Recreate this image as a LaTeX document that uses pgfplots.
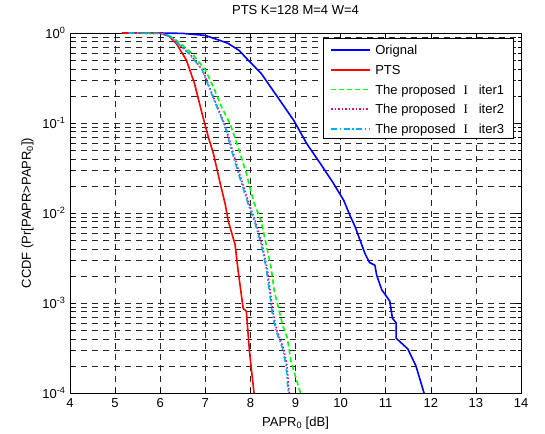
\documentclass[border=0pt]{standalone}
\usepackage{fontspec}
\setmainfont{Liberation Sans}
\newfontfamily\serifI{Liberation Serif}
\usepackage{pgfplots}
\pgfplotsset{compat=1.18}
\usetikzlibrary{calc}

\tikzset{
  origstyle/.style={color=blue, line width=1.6pt},
  ptsstyle/.style={color=red, line width=1.6pt},
  itaStyle/.style={color=green, line width=1.6pt, dash pattern=on 5pt off 3pt},
  itbStyle/.style={color=magenta, line width=1.6pt, dash pattern=on 1.5pt off 2pt},
  itcStyle/.style={color=cyan, line width=1.6pt, dash pattern=on 6pt off 2.5pt on 1.5pt off 2.5pt},
}
\newcommand{\propI}{The proposed\hspace{8pt}{\serifI I}\hspace{11pt}}
% one filled legend segment: colour, row centre (from box top), start, end (from line start)
\newcommand{\seg}[4]{\fill[#1] ([xshift={8pt+#3pt},yshift={#2pt-0.8pt}]lg.north west)
  rectangle ([xshift={8pt+#4pt},yshift={#2pt+0.8pt}]lg.north west);}

\begin{document}
\fontsize{13}{15}\selectfont
\begin{tikzpicture}
\begin{semilogyaxis}[
  scale only axis,
  width=451pt, height=360pt,
  xmin=4, xmax=14, ymin=1e-4, ymax=1,
  clip=false,
  xtick={4,5,...,14},
  ytick={1e-4,1e-3,1e-2,1e-1,1},
  yticklabels={10\textsuperscript{-4},10\textsuperscript{-3},10\textsuperscript{-2},10\textsuperscript{-1},10\textsuperscript{0}},
  minor ytick={2e-4,3e-4,4e-4,5e-4,6e-4,7e-4,8e-4,9e-4,
               2e-3,3e-3,4e-3,5e-3,6e-3,7e-3,8e-3,9e-3,
               2e-2,3e-2,4e-2,5e-2,6e-2,7e-2,8e-2,9e-2,
               2e-1,3e-1,4e-1,5e-1,6e-1,7e-1,8e-1,9e-1},
  /pgf/number format/assume math mode=true,
  tick pos=both,
  tick align=inside,
  major tick length=5pt, minor tick length=3pt,
  tick style={black, line width=0.6pt},
  axis line style={line width=1pt},
  xmajorgrids, ymajorgrids, yminorgrids,
  major grid style={black!85, line width=0.6pt, dash pattern=on 6pt off 5pt},
  minor grid style={black!85, line width=0.6pt, dash pattern=on 6pt off 5pt},
  title={PTS K=128 M=4 W=4},
  title style={at={(0.5,1)}, anchor=south, yshift=8pt},
  xlabel={PAPR\textsubscript{0} [dB]},
  ylabel={CCDF (Pr[PAPR>PAPR\textsubscript{0}])},
  xticklabel style={yshift=-1pt},
]
\addplot[origstyle] coordinates {
(5.5,1.0) (6.0,1.0) (6.5,0.99) (7.0,0.94) (7.5,0.77) (7.75,0.64) (7.95,0.50)
(8.24,0.355) (8.6,0.195) (8.96,0.107) (9.25,0.0589) (9.55,0.0355) (9.84,0.0214)
(10.07,0.0138) (10.21,0.00933) (10.32,0.00708) (10.43,0.00501) (10.54,0.00355)
(10.64,0.00282) (10.76,0.00263) (10.8,0.00204) (10.91,0.00141) (11.09,0.00105)
(11.15,0.000676) (11.23,0.000603) (11.23,0.000407) (11.49,0.000309)
(11.67,0.0002) (11.85,0.0001)};
\addplot[ptsstyle] coordinates {
(5.15,1.0) (6.0,1.0) (6.2,0.92) (6.36,0.76) (6.58,0.50) (6.76,0.275) (6.93,0.126)
(7.07,0.069) (7.18,0.0457) (7.33,0.0214) (7.44,0.0126) (7.51,0.0081)
(7.66,0.00447) (7.73,0.00224) (7.84,0.00087) (7.91,0.00081) (7.98,0.000288)
(8.08,0.0001)};
\addplot[itaStyle] coordinates {
(5.3,1.0) (6.0,0.99) (6.2,0.93) (6.42,0.79) (6.71,0.59) (7.0,0.39) (7.18,0.25)
(7.36,0.151) (7.55,0.0977) (7.73,0.0537) (7.91,0.0275) (8.07,0.0135)
(8.24,0.0081) (8.35,0.00447) (8.46,0.00245) (8.53,0.00135) (8.64,0.00081)
(8.71,0.000575) (8.82,0.000407) (8.9,0.000224) (9.11,0.0001)};
\addplot[itbStyle] coordinates {
(5.3,1.0) (6.0,0.99) (6.2,0.93) (6.37,0.79) (6.65,0.59) (6.94,0.39) (7.12,0.23)
(7.3,0.138) (7.45,0.0912) (7.6,0.0501) (7.78,0.0251) (7.97,0.0126)
(8.11,0.0081) (8.26,0.00447) (8.37,0.00245) (8.44,0.00135) (8.51,0.00074)
(8.59,0.00049) (8.73,0.000316) (8.81,0.000204) (8.86,0.0001)};
\addplot[itcStyle] coordinates {
(5.3,1.0) (6.0,0.99) (6.2,0.93) (6.36,0.79) (6.64,0.59) (6.93,0.39) (7.11,0.23)
(7.29,0.138) (7.44,0.0912) (7.58,0.0501) (7.76,0.0251) (7.95,0.0126)
(8.09,0.0081) (8.24,0.00447) (8.35,0.00245) (8.42,0.00135) (8.49,0.00074)
(8.57,0.00049) (8.71,0.000316) (8.79,0.000204) (8.84,0.0001)};

% legend box
\node[draw=black, line width=0.9pt, fill=white, anchor=north east,
      minimum width=190pt, minimum height=100pt, inner sep=0pt] (lg)
      at ([xshift=-7pt,yshift=-5pt]rel axis cs:1,1) {};
\seg{blue}{-12}{0}{39}
\seg{red}{-31.75}{0}{39}
\seg{green}{-51.5}{0}{5}\seg{green}{-51.5}{8}{13}\seg{green}{-51.5}{16}{21}
\seg{green}{-51.5}{24}{29}\seg{green}{-51.5}{32}{37}
\seg{magenta}{-71.25}{0}{1.5}\seg{magenta}{-71.25}{3.5}{5}\seg{magenta}{-71.25}{7}{8.5}
\seg{magenta}{-71.25}{10.5}{12}\seg{magenta}{-71.25}{14}{15.5}\seg{magenta}{-71.25}{17.5}{19}
\seg{magenta}{-71.25}{21}{22.5}\seg{magenta}{-71.25}{24.5}{26}\seg{magenta}{-71.25}{28}{29.5}
\seg{magenta}{-71.25}{31.5}{33}\seg{magenta}{-71.25}{35}{36.5}
\seg{cyan}{-91}{0}{6}\seg{cyan}{-91}{8.5}{10}\seg{cyan}{-91}{12.5}{18.5}
\seg{cyan}{-91}{21}{22.5}\seg{cyan}{-91}{25}{31}\seg{cyan}{-91}{33.5}{35}\seg{cyan}{-91}{37.5}{39}
\node[anchor=base west, inner sep=0pt] at ([xshift=52pt,yshift=-16.6pt]lg.north west) {Orignal};
\node[anchor=base west, inner sep=0pt] at ([xshift=52pt,yshift=-36.35pt]lg.north west) {PTS};
\node[anchor=base west, inner sep=0pt] at ([xshift=52pt,yshift=-56.1pt]lg.north west) {\propI iter1};
\node[anchor=base west, inner sep=0pt] at ([xshift=52pt,yshift=-75.85pt]lg.north west) {\propI iter2};
\node[anchor=base west, inner sep=0pt] at ([xshift=52pt,yshift=-95.6pt]lg.north west) {\propI iter3};
\end{semilogyaxis}
\path ($(current axis.south west)+(-70pt,-39pt)$) rectangle ($(current axis.north east)+(24pt,33pt)$);
\end{tikzpicture}
\end{document}
